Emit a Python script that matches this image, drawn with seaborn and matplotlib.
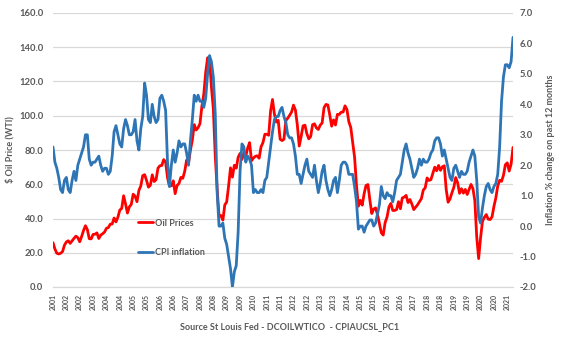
import numpy as np
import pandas as pd
import matplotlib
matplotlib.use("Agg")
import matplotlib.pyplot as plt
from matplotlib.lines import Line2D
import seaborn as sns

# Monthly data, Sep 2001 - Oct 2021
start_month = "2001-09-01"

oil_prices = [
    # 2001 (Sep-Dec)
    25.9, 22.2, 19.7, 19.3,
    # 2002
    19.7, 20.7, 24.4, 26.3, 27.0, 25.5, 27.0, 28.4, 29.7, 28.8, 26.4, 29.5,
    # 2003
    33.0, 35.8, 33.5, 28.2, 28.1, 30.7, 30.8, 31.6, 28.3, 30.3, 31.1, 32.1,
    # 2004
    34.3, 34.7, 36.7, 36.8, 40.3, 38.0, 40.8, 44.9, 45.9, 53.3, 48.5, 43.2,
    # 2005
    46.8, 48.2, 54.2, 53.0, 49.8, 56.4, 59.0, 65.0, 65.6, 62.3, 58.3, 59.4,
    # 2006
    65.5, 61.6, 62.7, 69.4, 70.8, 71.0, 74.4, 73.0, 63.8, 58.9, 59.1, 62.0,
    # 2007
    54.5, 59.3, 60.4, 64.0, 63.5, 67.5, 74.1, 72.4, 79.9, 85.8, 94.8, 91.7,
    # 2008
    93.0, 95.4, 105.5, 112.6, 125.4, 133.9, 133.4, 116.7, 104.1, 76.6, 57.3, 41.1,
    # 2009
    41.7, 39.1, 47.9, 49.7, 59.0, 69.6, 64.2, 71.1, 69.4, 75.7, 78.0, 74.5,
    # 2010
    78.3, 76.4, 81.2, 84.3, 73.7, 75.3, 76.3, 76.6, 75.2, 81.9, 84.3, 89.2,
    # 2011
    89.2, 88.6, 102.9, 109.5, 100.9, 96.3, 97.3, 86.3, 85.5, 86.3, 97.2, 98.6,
    # 2012
    100.3, 102.2, 106.2, 103.3, 94.7, 82.3, 87.9, 94.1, 94.5, 89.5, 86.5, 87.9,
    # 2013
    94.8, 95.3, 92.9, 92.0, 94.5, 95.8, 104.7, 106.6, 106.3, 100.5, 93.9, 97.6,
    # 2014
    94.6, 100.8, 100.8, 102.1, 102.2, 105.8, 103.6, 96.5, 93.2, 84.4, 75.8, 59.3,
    # 2015
    47.2, 50.6, 47.8, 54.5, 59.3, 59.8, 50.9, 42.9, 45.5, 46.2, 42.4, 37.2,
    # 2016
    31.7, 30.3, 37.6, 40.8, 46.7, 48.8, 44.7, 44.7, 45.2, 49.8, 45.7, 52.0,
    # 2017
    52.5, 53.5, 49.3, 51.1, 48.5, 45.2, 46.6, 48.0, 49.8, 51.6, 56.6, 57.9,
    # 2018
    63.7, 62.2, 62.7, 66.3, 70.0, 67.9, 71.0, 68.1, 70.2, 70.8, 57.0, 49.5,
    # 2019
    51.4, 55.0, 58.2, 63.9, 60.8, 54.7, 57.4, 54.8, 57.0, 54.0, 57.0, 59.9,
    # 2020
    57.5, 50.5, 29.2, 16.6, 28.6, 38.3, 40.7, 42.3, 39.6, 39.4, 40.9, 47.0,
    # 2021 (Jan-Oct)
    52.0, 59.0, 62.3, 61.7, 65.2, 71.4, 72.5, 67.7, 71.7, 81.5,
]

cpi_inflation = [
    # 2001 (Sep-Dec)
    2.6, 2.1, 1.9, 1.6,
    # 2002
    1.2, 1.1, 1.5, 1.6, 1.2, 1.1, 1.5, 1.8, 1.5, 2.0, 2.2, 2.4,
    # 2003
    2.6, 3.0, 3.0, 2.2, 2.0, 2.1, 2.1, 2.2, 2.3, 2.0, 1.8, 1.9,
    # 2004
    1.9, 1.7, 1.8, 2.3, 3.1, 3.3, 3.0, 2.7, 2.6, 3.2, 3.5, 3.3,
    # 2005
    3.0, 3.0, 3.1, 3.5, 2.8, 2.5, 3.2, 3.6, 4.7, 4.3, 3.5, 3.4,
    # 2006
    4.0, 3.6, 3.4, 3.5, 4.2, 4.3, 4.1, 3.8, 2.1, 1.3, 2.0, 2.5,
    # 2007
    2.1, 2.4, 2.8, 2.6, 2.7, 2.7, 2.4, 2.0, 2.8, 3.5, 4.3, 4.1,
    # 2008
    4.3, 4.1, 4.1, 3.9, 4.2, 5.0, 5.6, 5.4, 4.9, 3.7, 1.1, 0.0,
    # 2009
    0.0, 0.1, -0.4, -0.6, -1.0, -1.4, -2.0, -1.5, -1.3, -0.2, 1.8, 2.7,
    # 2010
    2.6, 2.1, 2.3, 2.2, 2.0, 1.1, 1.2, 1.1, 1.1, 1.2, 1.1, 1.5,
    # 2011
    1.6, 2.1, 2.6, 3.1, 3.5, 3.6, 3.6, 3.8, 3.9, 3.6, 3.4, 3.0,
    # 2012
    2.9, 2.9, 2.7, 2.3, 1.7, 1.7, 1.4, 1.7, 2.0, 2.2, 1.8, 1.7,
    # 2013
    1.6, 2.0, 1.5, 1.1, 1.4, 1.8, 2.0, 1.5, 1.2, 1.0, 1.2, 1.5,
    # 2014
    1.6, 1.1, 1.5, 2.0, 2.1, 2.1, 2.0, 1.7, 1.7, 1.7, 1.3, 0.8,
    # 2015
    -0.1, 0.0, 0.0, -0.2, 0.0, 0.1, 0.2, 0.2, 0.0, 0.1, 0.4, 0.7,
    # 2016
    1.3, 1.0, 0.9, 1.1, 1.0, 1.0, 0.8, 1.1, 1.5, 1.6, 1.7, 2.1,
    # 2017
    2.5, 2.7, 2.4, 2.2, 1.9, 1.6, 1.7, 1.9, 2.2, 2.0, 2.2, 2.1,
    # 2018
    2.1, 2.2, 2.4, 2.5, 2.8, 2.9, 2.9, 2.7, 2.3, 2.5, 2.2, 1.9,
    # 2019
    1.6, 1.5, 1.9, 2.0, 1.8, 1.6, 1.8, 1.7, 1.7, 1.8, 2.1, 2.3,
    # 2020
    2.5, 2.3, 1.5, 0.3, 0.1, 0.6, 1.0, 1.3, 1.4, 1.2, 1.1, 1.3,
    # 2021 (Jan-Oct)
    1.4, 1.7, 2.6, 4.1, 4.9, 5.3, 5.3, 5.2, 5.4, 6.2,
]

series_names = ["Oil Prices", "CPI inflation"]
left_label = "$ Oil Price (WTI)"
right_label = "Inflation % change on past 12 months"
source_text = "Source St Louis Fed - DCOILWTICO  - CPIAUCSL_PC1"
label_every = 7  # category-axis label interval (months)

n = len(oil_prices)
dates = pd.date_range(start_month, periods=n, freq="MS")
df = pd.DataFrame({"idx": np.arange(n), "year": dates.year,
                   "oil": oil_prices, "cpi": cpi_inflation})

sns.set_theme(style="white")
plt.rcParams["font.family"] = ["Lato", "DejaVu Sans"]

RED = "#FF0000"
BLUE = "#2E75B6"
TXT = "#595959"
GRID = "#D9D9D9"

fig = plt.figure(figsize=(5.76, 3.47), dpi=100)
ax = fig.add_axes([53 / 576, 1 - 287 / 347, 460 / 576, 274 / 347])
ax2 = ax.twinx()

sns.lineplot(data=df, x="idx", y="oil", ax=ax, color=RED, linewidth=2.0)
sns.lineplot(data=df, x="idx", y="cpi", ax=ax2, color=BLUE, linewidth=2.0)

ax.set_xlim(0, n - 1)
ax.set_ylim(0, 160)
ax.set_yticks(np.arange(0, 161, 20))
ax.set_yticklabels([f"{v:.1f}" for v in np.arange(0, 161, 20)])
ax2.set_ylim(-2, 7)
ax2.set_yticks(np.arange(-2, 7.01, 1))
ax2.set_yticklabels([f"{v:.1f}" for v in np.arange(-2, 7.01, 1)])

ax.set_xticks(df["idx"].values[::label_every])
ax.set_xticklabels([str(y) for y in df["year"].values[::label_every]],
                   rotation=90)

ax.grid(axis="y", color=GRID, linewidth=0.9)
ax.grid(axis="x", visible=False)
ax2.grid(False)
for a in (ax, ax2):
    for s in a.spines.values():
        s.set_visible(False)
ax.spines["bottom"].set_visible(True)
ax.spines["bottom"].set_color(GRID)
ax.spines["bottom"].set_linewidth(0.9)

ax.tick_params(axis="y", length=0, pad=7, labelsize=6.8, labelcolor=TXT)
ax2.tick_params(axis="y", length=0, pad=5, labelsize=6.8, labelcolor=TXT)
ax.tick_params(axis="x", length=0, pad=5, labelsize=5.0, labelcolor=TXT)
for lbl in ax.get_yticklabels() + ax2.get_yticklabels() + ax.get_xticklabels():
    lbl.set_fontweight("bold")

ax.set_xlabel("")
ax.set_ylabel(left_label, fontsize=6.5, color=TXT, fontweight="bold")
ax.yaxis.set_label_coords(-0.083, 0.5)
ax2.set_ylabel(right_label, fontsize=6.5, color=TXT, fontweight="bold")
ax2.yaxis.set_label_coords(1.072, 0.5)

handles = [Line2D([], [], color=RED, linewidth=2.0),
           Line2D([], [], color=BLUE, linewidth=2.0)]
leg = fig.legend(handles, series_names, loc="center left",
                 bbox_to_anchor=(130 / 576, 1 - 238 / 347), frameon=False,
                 fontsize=6.5, labelspacing=2.3, handlelength=1.7,
                 handletextpad=0.2, labelcolor=TXT)
for t in leg.get_texts():
    t.set_fontweight("bold")

fig.text(290 / 576, 1 - 327 / 347, source_text, ha="center", va="center",
         fontsize=6.5, color=TXT, fontweight="bold")

fig.savefig("out.png", dpi=100)
